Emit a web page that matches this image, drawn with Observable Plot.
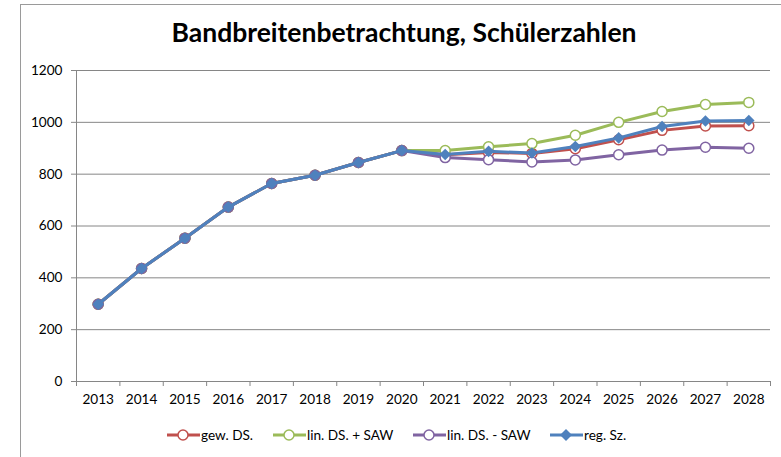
<!DOCTYPE html>
<html>
<head>
<meta charset="utf-8">
<script src="https://cdn.jsdelivr.net/npm/d3@7"></script>
<script src="https://cdn.jsdelivr.net/npm/@observablehq/plot@0.6"></script>
<style>
  html, body { margin: 0; padding: 0; background: #fff; }
  #root { position: relative; width: 781px; height: 457px; overflow: hidden; font-family: Lato, "Noto Sans", sans-serif; }
  #frame { position: absolute; left: 20px; top: 4px; width: 800px; height: 500px; border-left: 1px solid #9a9a9a; border-top: 1px solid #9a9a9a; }
  #title { position: absolute; left: 0; width: 808px; top: 16px; text-align: center; font-weight: bold; font-size: 26.5px; color: #000; }
  #chart { position: absolute; left: 0; top: 0; }
  #legend { position: absolute; left: 0; top: 426px; width: 781px; height: 20px; font-size: 13.6px; color: #000; }
  .item { position: absolute; top: 0; display: flex; align-items: center; height: 18px; }
  .item svg { margin-right: 1px; }
</style>
</head>
<body>
<div id="root">
  <div id="frame"></div>
  <div id="chart"></div>
  <div id="title">Bandbreitenbetrachtung, Schülerzahlen</div>
  <div id="legend"></div>
</div>
<script>
const years = [2013, 2014, 2015, 2016, 2017, 2018, 2019, 2020, 2021, 2022, 2023, 2024, 2025, 2026, 2027, 2028];
const gewDS     = [298, 436, 553, 673, 764, 796, 845, 891, 875, 884, 880, 898, 933, 969, 986, 987];
const linPlus   = [298, 436, 553, 673, 764, 796, 845, 891, 891, 906, 918, 950, 1000, 1042, 1069, 1077];
const linMinus  = [298, 436, 553, 673, 764, 796, 845, 891, 864, 856, 847, 855, 875, 893, 904, 900];
const regSz     = [298, 436, 553, 673, 764, 796, 845, 891, 876, 888, 882, 907, 940, 984, 1005, 1007];
const seriesNames = ["gew. DS.", "lin. DS. + SAW", "lin. DS. - SAW", "reg. Sz."];
const seriesColors = ["#C0504D", "#9BBB59", "#8064A2", "#4F81BD"];
const yTicks = [0, 200, 400, 600, 800, 1000, 1200];

const toRows = (vals) => years.map((year, i) => ({year, value: vals[i]}));
const rows = [gewDS, linPlus, linMinus, regSz].map(toRows);
const boundaries = years.map(y => y - 0.5).concat([years[years.length - 1] + 0.5]);
const grey = "#868686";
const blue = seriesColors[3];

// square diamond (rotated square), like Excel's marker
const squareDiamond = {
  draw(ctx, size) {
    const r = Math.sqrt(size / 2);
    ctx.moveTo(0, -r); ctx.lineTo(r, 0); ctx.lineTo(0, r); ctx.lineTo(-r, 0); ctx.closePath();
  }
};

const marks = [
  Plot.ruleY(yTicks.filter(t => t > 0), {stroke: grey, strokeWidth: 1}),
  Plot.ruleY([0], {stroke: grey, strokeWidth: 1}),
  Plot.ruleX([boundaries[0]], {y1: 0, y2: 1200, stroke: grey, strokeWidth: 1}),
  Plot.axisY({ticks: yTicks, tickSize: 5, tickPadding: 9, stroke: grey, fill: "#000", fontSize: 13.6, label: null, tickFormat: d => String(d)}),
  Plot.axisX({ticks: boundaries, tickSize: 5, stroke: grey, label: null, tickFormat: () => ""}),
  Plot.axisX({ticks: years, tickSize: 0, tickPadding: 13, fill: "#000", fontSize: 13.6, label: null, tickFormat: d => String(d)})
];

rows.forEach((data, i) => {
  marks.push(Plot.line(data, {x: "year", y: "value", stroke: seriesColors[i], strokeWidth: 3}));
  if (i < 3) {
    marks.push(Plot.dot(data, {x: "year", y: "value", r: 5, stroke: seriesColors[i], strokeWidth: 1.5,
      fill: d => d.year <= 2020 ? blue : "#fff"}));
  } else {
    marks.push(Plot.dot(data, {x: "year", y: "value", r: 4.6, symbol: squareDiamond, fill: blue, stroke: "none"}));
  }
});

const chart = Plot.plot({
  width: 781,
  height: 457,
  marginLeft: 76,
  marginRight: 11,
  marginTop: 70,
  marginBottom: 76,
  style: {fontFamily: "Lato, 'Noto Sans', sans-serif", fontSize: "13.6px", background: "transparent"},
  x: {domain: [boundaries[0], boundaries[boundaries.length - 1]], axis: null, label: null},
  y: {domain: [0, 1200], axis: null, label: null},
  marks
});
document.getElementById("chart").appendChild(chart);

// legend
const legendLefts = [167, 273, 413, 550];
const legend = document.getElementById("legend");
seriesNames.forEach((name, i) => {
  const item = document.createElement("div");
  item.className = "item";
  item.style.left = legendLefts[i] + "px";
  const marker = i < 3
    ? `<circle cx="16" cy="9" r="5" fill="#fff" stroke="${seriesColors[i]}" stroke-width="1.5"/>`
    : `<path d="M16,3 L22,9 L16,15 L10,9 Z" fill="${seriesColors[i]}"/>`;
  item.innerHTML = `<svg width="33" height="18"><line x1="0" x2="33" y1="9" y2="9" stroke="${seriesColors[i]}" stroke-width="3"/>${marker}</svg><span>${name}</span>`;
  legend.appendChild(item);
});
</script>
</body>
</html>
